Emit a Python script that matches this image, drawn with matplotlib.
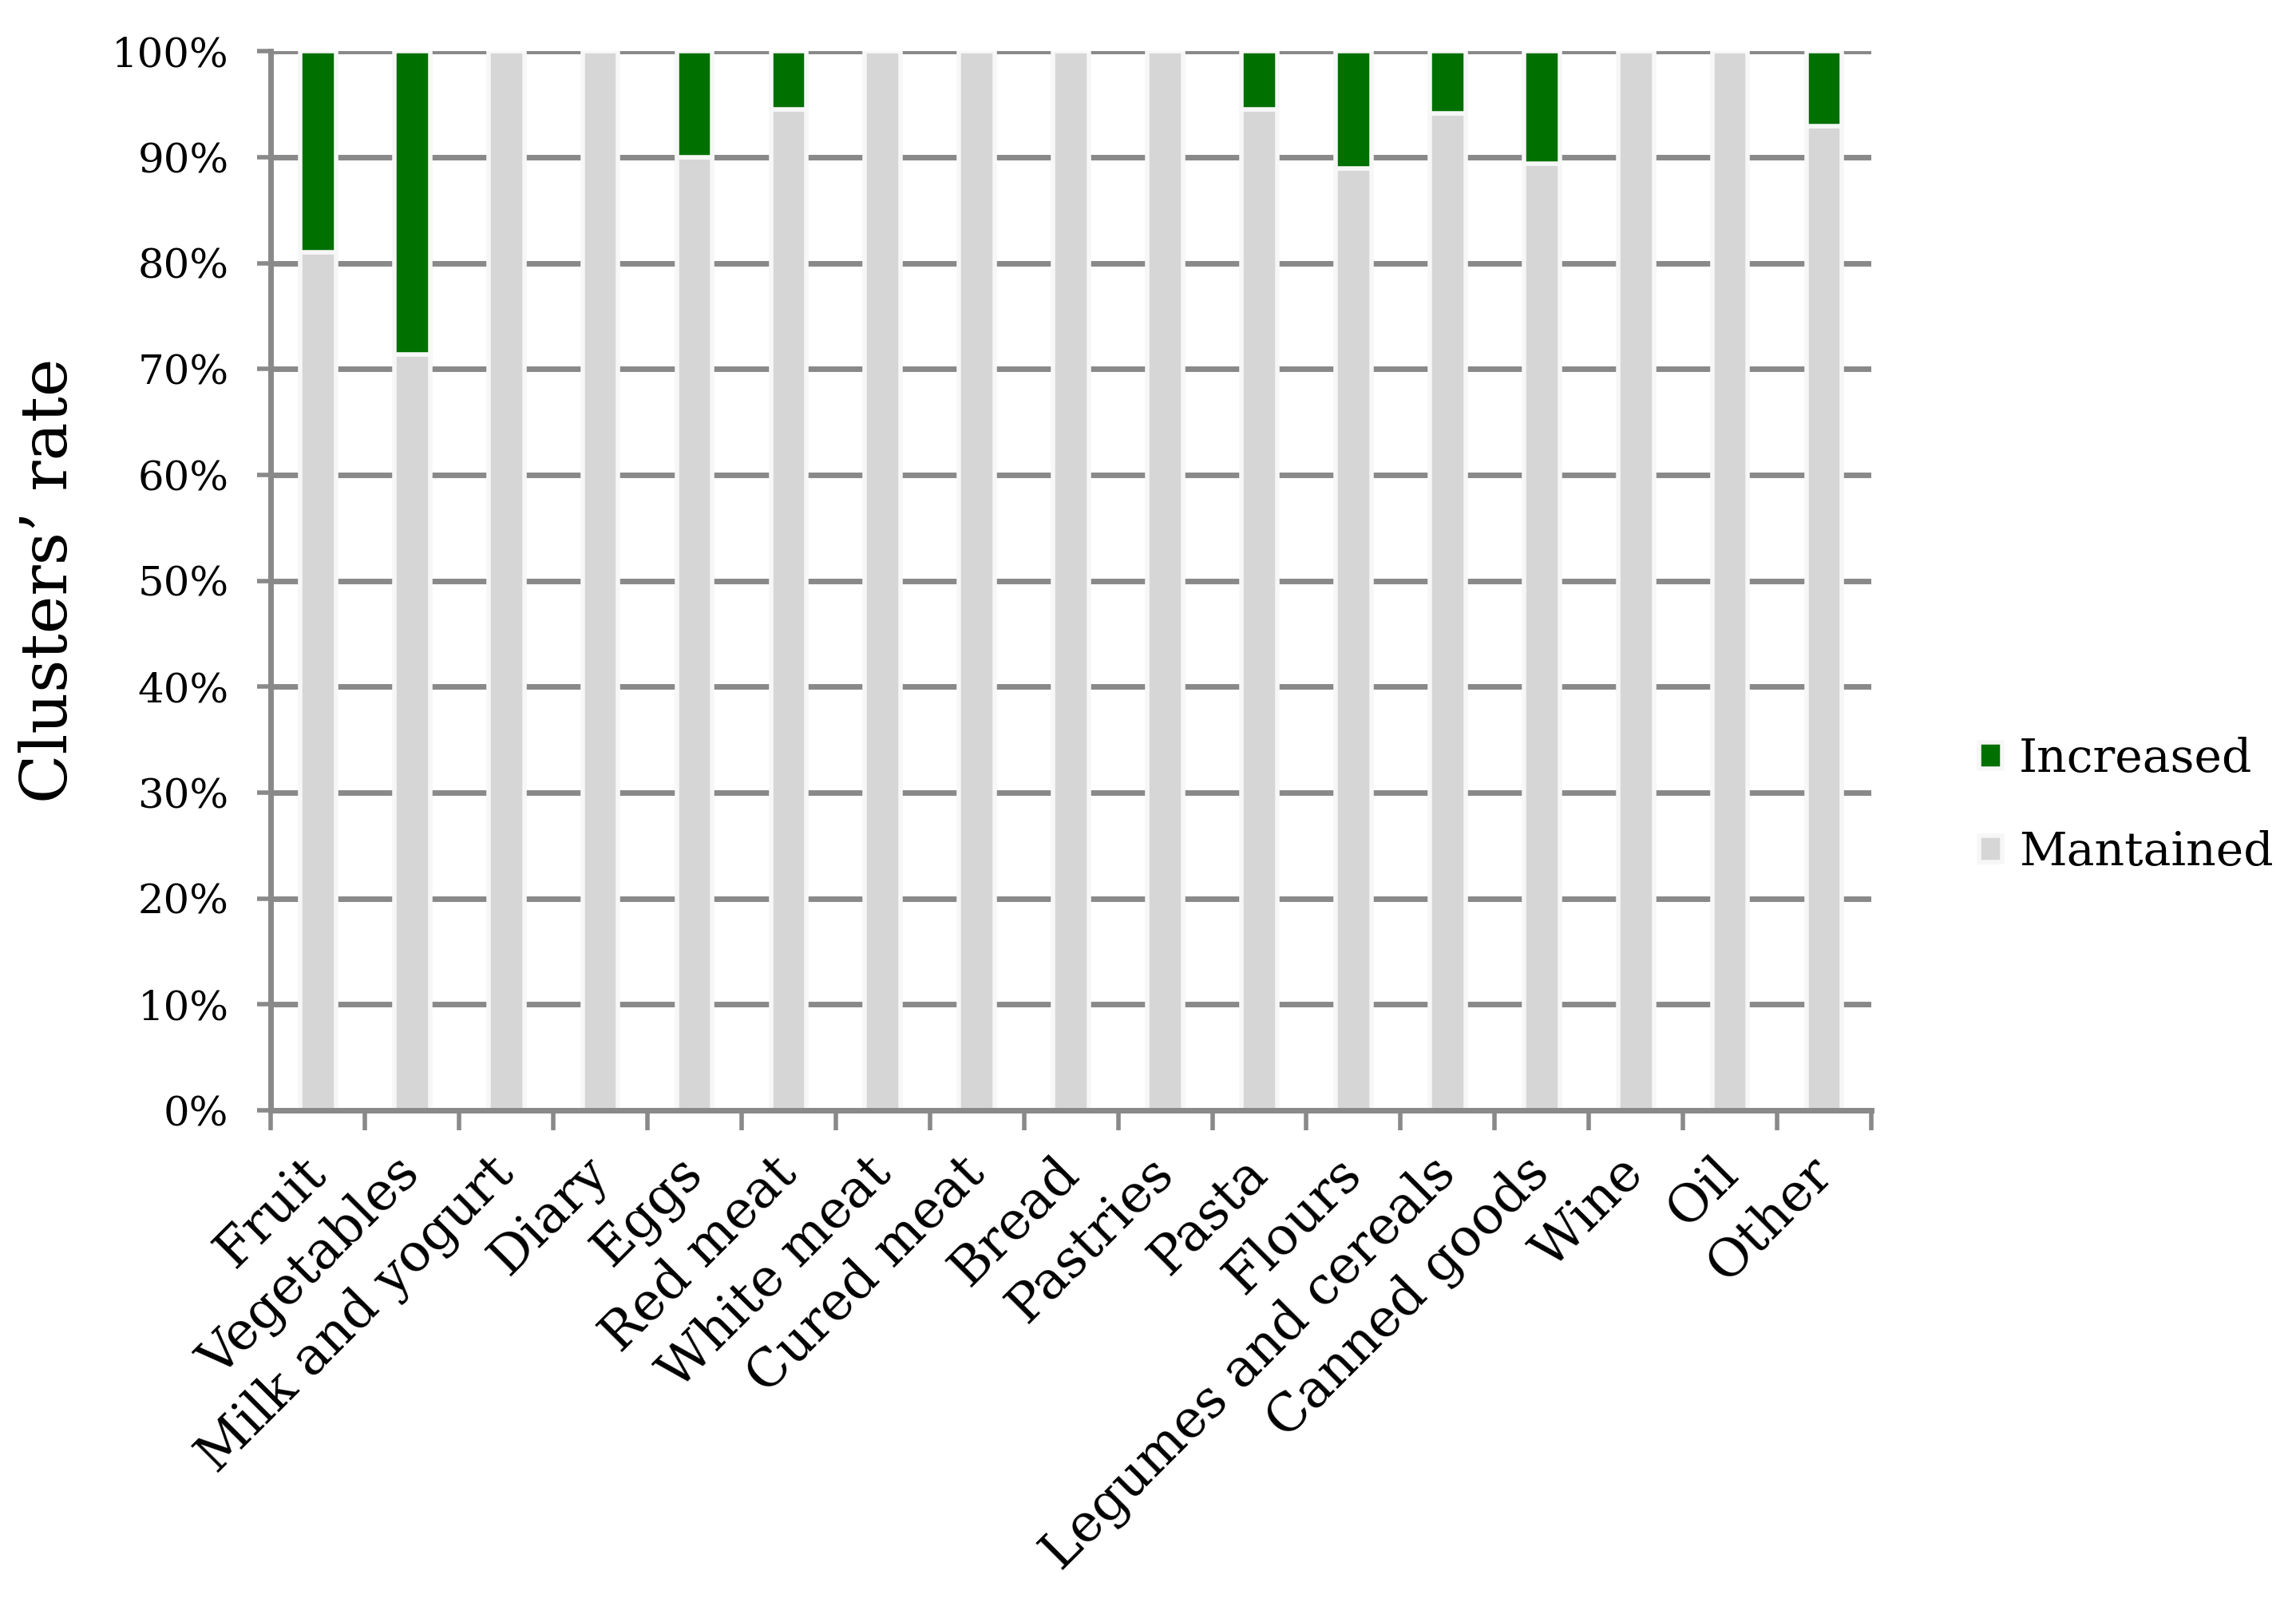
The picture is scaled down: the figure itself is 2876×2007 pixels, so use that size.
import matplotlib.pyplot as plt
import numpy as np

# data (percent of clusters)
categories = ["Fruit", "Vegetables", "Milk and yogurt", "Diary", "Eggs", "Red meat",
              "White meat", "Cured meat", "Bread", "Pastries", "Pasta", "Flours",
              "Legumes and cereals", "Canned goods", "Wine", "Oil", "Other"]
mantained = [81.0, 71.4, 100, 100, 90.0, 94.5, 100, 100, 100, 100, 94.5, 88.9,
             94.1, 89.4, 100, 100, 92.9]
increased = [100 - m for m in mantained]

plt.rcParams['font.family'] = ['DejaVu Serif']

grid_col = '#898989'
green = '#007000'
gray = '#d6d6d6'
edge = '#f7f7f7'

fig = plt.figure(figsize=(28.76, 20.07), dpi=100)
ax = fig.add_axes([0.118, 0.307, 0.697, 0.661])

x = np.arange(len(categories))
ax.bar(x, mantained, width=0.38, color=gray, edgecolor=edge, linewidth=4,
       label='Mantained', zorder=3)
ax.bar(x, increased, bottom=mantained, width=0.38, color=green, edgecolor=edge,
       linewidth=4, label='Increased', zorder=3)

ax.set_xlim(-0.5, len(categories) - 0.5)
ax.set_ylim(0, 100)
ax.set_yticks(np.arange(0, 101, 10))
ax.set_yticklabels([f"{v}%" for v in range(0, 101, 10)], fontsize=37)
ax.yaxis.grid(True, color=grid_col, linewidth=5, zorder=0)
ax.set_axisbelow(True)

# category labels at centres, tick marks at boundaries
ax.set_xticks(x)
ax.set_xticklabels(categories, rotation=45, ha='right', va='center',
                   rotation_mode='anchor', fontsize=47)
ax.tick_params(axis='x', which='major', length=0, pad=50)
ax.set_xticks(np.arange(-0.5, len(categories)), minor=True)
ax.tick_params(axis='x', which='minor', length=18, width=4, color=grid_col)
ax.tick_params(axis='y', length=12, width=4, color=grid_col, pad=26)

for s in ['top', 'right']:
    ax.spines[s].set_visible(False)
for s in ['left', 'bottom']:
    ax.spines[s].set_color(grid_col)
    ax.spines[s].set_linewidth(5)
    ax.spines[s].set_zorder(4)

ax.set_ylabel("Clusters’ rate", fontsize=58)
ax.yaxis.set_label_coords(-0.119, 0.5)

h, l = ax.get_legend_handles_labels()
fig.legend(h[::-1], l[::-1], loc='center left', bbox_to_anchor=(0.862, 0.497),
           frameon=False, fontsize=42, handlelength=0.5, handleheight=0.5,
           handletextpad=0.35, labelspacing=1.05, borderpad=0, borderaxespad=0)

fig.savefig('out.png', dpi=100)
